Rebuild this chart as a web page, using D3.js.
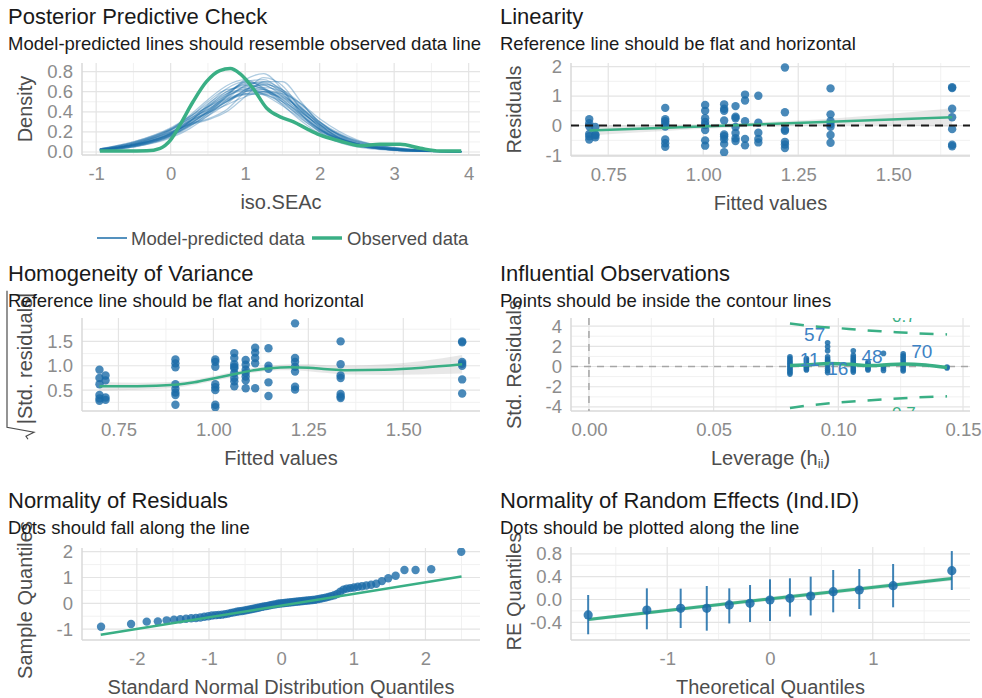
<!DOCTYPE html>
<html>
<head>
<meta charset="utf-8">
<script src="https://cdn.jsdelivr.net/npm/d3@7"></script>
<style>
  body { margin: 0; background: #fff; }
  svg { font-family: "Liberation Sans", Arial, sans-serif; }
  .tick text { font-family: "Liberation Sans", Arial, sans-serif; font-size: 18.5px; fill: #8c8c8c; }
  .domain { display: none; }
  .title { font-size: 22px; fill: #1a1a1a; }
  .subtitle { font-size: 18.5px; fill: #1a1a1a; }
  .axis-title { font-size: 20px; fill: #4d4d4d; }
</style>
</head>
<body>
<svg id="chart" width="982" height="698"></svg>
<script>
// ---- Posterior predictive check ----
const ppcX = [-0.95, -0.5, 0, 0.25, 0.5, 0.75, 1.0, 1.25, 1.5, 1.75, 2.0, 2.5, 3.0, 3.5, 3.9];
const ppcSims = [
  [0.02,0.07,0.18,0.29,0.42,0.55,0.63,0.62,0.52,0.37,0.23,0.08,0.03,0.01,0.005],
  [0.03,0.09,0.22,0.33,0.45,0.56,0.61,0.58,0.48,0.35,0.22,0.08,0.03,0.01,0.005],
  [0.01,0.05,0.15,0.25,0.38,0.55,0.70,0.72,0.60,0.40,0.23,0.06,0.02,0.005,0.002],
  [0.02,0.08,0.20,0.30,0.40,0.50,0.58,0.60,0.55,0.43,0.29,0.10,0.04,0.015,0.005],
  [0.02,0.06,0.17,0.30,0.47,0.63,0.70,0.64,0.50,0.34,0.20,0.07,0.025,0.008,0.003],
  [0.015,0.06,0.16,0.26,0.36,0.48,0.62,0.68,0.60,0.44,0.27,0.08,0.025,0.008,0.003],
  [0.025,0.08,0.21,0.34,0.50,0.62,0.64,0.57,0.46,0.33,0.21,0.08,0.035,0.012,0.004],
  [0.02,0.07,0.19,0.28,0.33,0.42,0.60,0.74,0.66,0.43,0.24,0.07,0.02,0.006,0.002],
  [0.03,0.10,0.24,0.35,0.45,0.53,0.58,0.57,0.50,0.39,0.27,0.11,0.045,0.015,0.006],
  [0.01,0.05,0.14,0.23,0.36,0.52,0.66,0.70,0.62,0.45,0.27,0.07,0.02,0.006,0.002],
  [0.02,0.07,0.18,0.30,0.45,0.60,0.67,0.62,0.50,0.36,0.22,0.08,0.03,0.01,0.004],
  [0.02,0.07,0.19,0.31,0.43,0.52,0.57,0.58,0.54,0.42,0.28,0.10,0.035,0.012,0.004],
  [0.015,0.06,0.17,0.28,0.40,0.54,0.65,0.66,0.57,0.41,0.25,0.08,0.025,0.008,0.003],
  [0.02,0.08,0.20,0.27,0.32,0.40,0.55,0.70,0.70,0.50,0.28,0.07,0.02,0.006,0.002],
  [0.025,0.08,0.22,0.36,0.52,0.66,0.72,0.63,0.47,0.31,0.18,0.06,0.02,0.007,0.002],
  [0.02,0.07,0.18,0.28,0.39,0.50,0.60,0.64,0.60,0.47,0.30,0.09,0.03,0.01,0.004],
  [0.01,0.05,0.16,0.27,0.40,0.56,0.72,0.78,0.62,0.38,0.20,0.05,0.015,0.005,0.002],
  [0.03,0.09,0.22,0.31,0.39,0.47,0.55,0.60,0.58,0.48,0.33,0.12,0.04,0.012,0.004],
  [0.02,0.07,0.19,0.32,0.46,0.58,0.62,0.60,0.53,0.40,0.26,0.09,0.03,0.01,0.004],
  [0.02,0.06,0.16,0.26,0.38,0.50,0.62,0.67,0.62,0.48,0.30,0.08,0.025,0.008,0.003],
  [0.025,0.09,0.23,0.35,0.48,0.60,0.66,0.63,0.52,0.37,0.23,0.08,0.03,0.01,0.004],
  [0.02,0.07,0.17,0.27,0.41,0.57,0.68,0.69,0.58,0.41,0.25,0.07,0.02,0.007,0.002],
  [0.03,0.10,0.23,0.33,0.42,0.51,0.60,0.62,0.56,0.44,0.30,0.11,0.04,0.013,0.005],
  [0.015,0.06,0.18,0.30,0.44,0.58,0.69,0.67,0.55,0.38,0.22,0.06,0.02,0.006,0.002]
];
const obsX = [-0.95,-0.6,-0.32,-0.14,0,0.125,0.3,0.48,0.66,0.8,0.93,1.11,1.29,1.47,1.65,1.83,2.0,2.27,2.54,2.81,3.08,3.35,3.61,3.9];
const obsY = [0.01,0.01,0.012,0.037,0.12,0.27,0.5,0.70,0.81,0.83,0.78,0.63,0.435,0.35,0.30,0.23,0.17,0.11,0.063,0.077,0.077,0.037,0.01,0.01];

// ---- Linearity / homogeneity (fitted value groups) ----
const fittedLevels = [0.70, 0.716, 0.90, 1.005, 1.055, 1.085, 1.11, 1.145, 1.215, 1.335, 1.655];
const linResid = [
  [0.22, 0.08, -0.02, -0.28, -0.36, -0.47],
  [-0.05, -0.3, -0.33, -0.4],
  [0.6, 0.22, 0.15, 0.06, -0.03, -0.47, -0.6, -0.72],
  [0.7, 0.5, 0.25, 0.12, 0.02, -0.15, -0.5, -0.68],
  [0.72, 0.57, 0.5, 0.17, -0.3, -0.36, -0.46, -0.62, -0.9],
  [0.66, 0.3, 0.25, -0.05, -0.25, -0.43, -0.52],
  [1.05, 0.85, 0.15, -0.45, -0.67],
  [1.01, 0.1, -0.24, -0.45, -0.57],
  [1.97, 0.45, -0.13, -0.18, -0.55, -0.64, -0.76],
  [1.26, 0.38, 0.15, 0.05, -0.04, -0.32, -0.58],
  [1.3, 1.27, 0.57, 0.28, -0.12, -0.65, -0.7]
];
const linSmoothX = [0.70, 1.655];
const linSmoothY = [-0.17, 0.28];
const linBandX  = [0.70, 0.8, 0.9, 1.0, 1.1, 1.2, 1.3, 1.4, 1.5, 1.6, 1.655];
const linBandLo = [-0.34,-0.25,-0.18,-0.11,-0.06,-0.02,0.01,0.02,0.01,-0.02,-0.04];
const linBandHi = [0.0,0.0,0.02,0.05,0.09,0.15,0.21,0.3,0.41,0.52,0.6];

const homSqrtRes = [
  [0.92, 0.75, 0.62, 0.4, 0.33, 0.28],
  [0.8, 0.7, 0.35, 0.3],
  [1.13, 1.05, 0.97, 0.62, 0.53, 0.45, 0.4, 0.2],
  [1.13, 1.08, 0.98, 0.62, 0.56, 0.5, 0.2, 0.15],
  [1.26, 1.16, 1.03, 0.98, 0.95, 0.85, 0.75, 0.68, 0.58],
  [1.12, 1.02, 0.92, 0.85, 0.78, 0.7, 0.54],
  [1.37, 1.27, 1.16, 1.05, 0.54],
  [1.36, 1.0, 0.94, 0.66, 0.38],
  [1.87, 1.16, 1.08, 0.98, 0.88, 0.57, 0.51],
  [1.5, 1.03, 0.8, 0.75, 0.42, 0.37, 0.34],
  [1.5, 1.48, 1.08, 1.04, 1.0, 0.72, 0.43]
];
const homSmoothX = [0.70,0.80,0.90,0.95,1.0,1.05,1.1,1.15,1.2,1.25,1.3,1.35,1.45,1.55,1.655];
const homSmoothY = [0.58,0.58,0.61,0.66,0.74,0.82,0.9,0.95,0.97,0.96,0.93,0.91,0.92,0.96,1.03];
const homBandLo  = [0.49,0.51,0.55,0.61,0.69,0.77,0.85,0.90,0.91,0.89,0.85,0.82,0.81,0.82,0.84];
const homBandHi  = [0.67,0.65,0.67,0.71,0.79,0.87,0.95,1.0,1.03,1.03,1.01,1.0,1.03,1.10,1.22];

// ---- Influential observations ----
const infLev = [0.0806, 0.0872, 0.0957, 0.106, 0.1119, 0.1181, 0.126, 0.1436];
const infRes = [
  [0.97,0.8,0.6,0.45,0.3,0.15,0,-0.15,-0.3,-0.45,-0.6,-0.75],
  [0.8,0.65,0.5,0.3,0.15,0,-0.1,-0.25,-0.35],
  [2.35,1.95,1.55,0.95,0.75,0.6,0.45,0.3,0.1,-0.2,-0.4,-0.6],
  [1.55,1.1,0.9,0.75,0.6,0.45,0.3,0.1,-0.1,-0.25,-0.4,-0.55],
  [0.45,0.3,0.15,0,-0.1,-0.25,-0.35],
  [1.3,0,-0.2,-0.4],
  [1.25,1.05,0.9,0.7,0.55,0.35,0.2,0.05,-0.1,-0.3,-0.45],
  [-0.05,-0.15]
];
const infSmoothX = [0.0806,0.09,0.0957,0.1,0.106,0.112,0.118,0.126,0.135,0.1436];
const infSmoothY = [0.1,0.2,0.3,0.28,0.2,0.1,0.15,0.25,0.15,-0.1];
const cookX  = [0.0806, 0.09, 0.1, 0.11, 0.12, 0.13, 0.1436];
const cookHi = [4.25, 3.98, 3.8, 3.6, 3.45, 3.3, 3.18];
const cookLo = [-4.1, -3.8, -3.55, -3.38, -3.22, -3.08, -2.95];
const infLabels = ["57", "11", "16", "48", "70"];
const infLabelX = [0.0905, 0.0885, 0.0998, 0.1135, 0.1335];
const infLabelY = [3.2, 0.7, -0.15, 0.95, 1.45];

// ---- Normality of residuals ----
const qqTheo = [-2.496,-2.080,-1.863,-1.709,-1.587,-1.485,-1.397,-1.318,-1.247,-1.181,-1.120,-1.064,-1.010,-0.959,-0.910,-0.864,-0.820,-0.776,-0.734,-0.694,
  -0.655,-0.616,-0.579,-0.542,-0.506,-0.471,-0.436,-0.402,-0.368,-0.335,-0.302,-0.269,-0.237,-0.205,-0.173,-0.142,-0.110,-0.078,-0.047,-0.016,
  0.016,0.047,0.078,0.110,0.142,0.173,0.205,0.237,0.269,0.302,0.335,0.368,0.402,0.436,0.471,0.506,0.542,0.579,0.616,0.655,
  0.694,0.734,0.776,0.820,0.864,0.910,0.959,1.010,1.064,1.120,1.181,1.247,1.318,1.397,1.485,1.587,1.709,1.863,2.080,2.496];
const qqSample = [-0.91,-0.80,-0.71,-0.70,-0.66,-0.64,-0.62,-0.60,-0.58,-0.57,-0.55,-0.52,-0.50,-0.47,-0.46,-0.45,-0.44,-0.42,-0.40,-0.37,
  -0.35,-0.33,-0.31,-0.30,-0.28,-0.26,-0.24,-0.22,-0.20,-0.18,-0.16,-0.14,-0.12,-0.11,-0.09,-0.07,-0.05,-0.04,-0.02,-0.01,
  0.00,0.01,0.02,0.03,0.04,0.05,0.06,0.07,0.08,0.09,0.10,0.11,0.12,0.13,0.14,0.16,0.18,0.20,0.22,0.25,
  0.28,0.31,0.36,0.45,0.53,0.57,0.59,0.61,0.64,0.66,0.69,0.72,0.76,0.86,0.97,1.07,1.29,1.29,1.32,2.00];
const qqLineX = [-2.5, 2.5];
const qqLineY = [-1.22, 1.04];

// ---- Normality of random effects ----
const reTheo = [-1.769,-1.198,-0.869,-0.615,-0.396,-0.194,0,0.194,0.396,0.615,0.869,1.198,1.769];
const reVal  = [-0.27,-0.184,-0.155,-0.155,-0.096,-0.067,-0.009,0.021,0.061,0.137,0.167,0.242,0.505];
const reLo   = [-0.61,-0.523,-0.50,-0.547,-0.42,-0.395,-0.377,-0.30,-0.28,-0.225,-0.167,-0.137,0.167];
const reHi   = [0.079,0.196,0.19,0.237,0.196,0.254,0.354,0.372,0.40,0.518,0.535,0.623,0.85];
const reLineX = [-1.769, 1.769];
const reLineY = [-0.35, 0.37];
const reBandLo = [-0.38, 0.33];
const reBandHi = [-0.32, 0.41];

const blue = "#1b6ca8", green = "#3aaf85";
const svg = d3.select("#chart");

function panel(c) {
  const g = svg.append("g");
  const x = d3.scaleLinear().domain(c.xDomain).range([c.left, c.right]);
  const y = d3.scaleLinear().domain(c.yDomain).range([c.bottom, c.top]);

  g.append("text").attr("class", "title").attr("x", c.tx).attr("y", c.ty).text(c.title);

  // grid
  const grid = g.append("g");
  grid.selectAll(".vmin").data(c.xMinor).join("line")
    .attr("x1", d => x(d)).attr("x2", d => x(d)).attr("y1", c.top).attr("y2", c.bottom)
    .attr("stroke", "#f1f1f1").attr("stroke-width", 1);
  grid.selectAll(".hmin").data(c.yMinor).join("line")
    .attr("y1", d => y(d)).attr("y2", d => y(d)).attr("x1", c.left).attr("x2", c.right)
    .attr("stroke", "#f1f1f1").attr("stroke-width", 1);
  grid.selectAll(".vmaj").data(c.xTicks).join("line")
    .attr("x1", d => x(d)).attr("x2", d => x(d)).attr("y1", c.top).attr("y2", c.bottom)
    .attr("stroke", "#e4e4e4").attr("stroke-width", 1.2);
  grid.selectAll(".hmaj").data(c.yTicks).join("line")
    .attr("y1", d => y(d)).attr("y2", d => y(d)).attr("x1", c.left).attr("x2", c.right)
    .attr("stroke", "#e4e4e4").attr("stroke-width", 1.2);
  g.append("line").attr("x1", c.left).attr("x2", c.left).attr("y1", c.top).attr("y2", c.bottom)
    .attr("stroke", "#d9d9d9").attr("stroke-width", 1.5);
  g.append("line").attr("x1", c.left).attr("x2", c.right).attr("y1", c.bottom).attr("y2", c.bottom)
    .attr("stroke", "#d9d9d9").attr("stroke-width", 1.5);

  g.append("g").attr("transform", `translate(0,${c.bottom})`)
    .call(d3.axisBottom(x).tickValues(c.xTicks).tickFormat((d, i) => c.xLabels[i]).tickSize(0).tickPadding(12));
  g.append("g").attr("transform", `translate(${c.left},0)`)
    .call(d3.axisLeft(y).tickValues(c.yTicks).tickFormat((d, i) => c.yLabels[i]).tickSize(0).tickPadding(9));

  // x title
  const xt = g.append("text").attr("class", "axis-title")
    .attr("x", (c.left + c.right) / 2).attr("y", c.bottom + 47)
    .attr("text-anchor", "middle").attr("dominant-baseline", "central");
  if (c.xTitleSub) {
    xt.text(c.xTitle);
    xt.append("tspan").attr("font-size", "13px").attr("dy", 5).text(c.xTitleSub);
    xt.append("tspan").attr("dy", -5).text(")");
  } else {
    xt.text(c.xTitle);
  }

  // y title
  const yg = g.append("g").attr("transform", `translate(${c.left - 57},${(c.top + c.bottom) / 2 + (c.yShift || 0)}) rotate(-90)`);
  const ytxt = yg.append("text").attr("class", "axis-title").attr("text-anchor", "middle")
    .attr("dominant-baseline", "central").text(c.yTitle);

  // subtitle drawn after y title so it sits on top like the reference
  g.append("text").attr("class", "subtitle").attr("x", c.tx).attr("y", c.ty + 26).text(c.subtitle);

  const id = "clip" + c.id;
  svg.append("clipPath").attr("id", id).append("rect")
    .attr("x", c.left).attr("y", c.top).attr("width", c.right - c.left).attr("height", c.bottom - c.top);
  const plot = g.append("g").attr("clip-path", `url(#${id})`);
  return { g, plot, x, y, ytxt, yg };
}

// ================= Panel 1: PPC =================
{
  const p = panel({
    id: 1, title: "Posterior Predictive Check", subtitle: "Model-predicted lines should resemble observed data line",
    tx: 8, ty: 24, left: 82, right: 480, top: 63, bottom: 155,
    xDomain: [-1.19, 4.152], yDomain: [-0.03, 0.886],
    xTicks: [-1, 0, 1, 2, 3, 4], xLabels: ["-1", "0", "1", "2", "3", "4"], xMinor: [-0.5, 0.5, 1.5, 2.5, 3.5],
    yTicks: [0, 0.2, 0.4, 0.6, 0.8], yLabels: ["0.0", "0.2", "0.4", "0.6", "0.8"], yMinor: [0.1, 0.3, 0.5, 0.7],
    xTitle: "iso.SEAc", yTitle: "Density"
  });
  const line = d3.line().x(d => p.x(d[0])).y(d => p.y(d[1])).curve(d3.curveMonotoneX);
  p.plot.selectAll(".sim").data(ppcSims).join("path")
    .attr("d", s => line(s.map((v, i) => [ppcX[i], v])))
    .attr("fill", "none").attr("stroke", blue).attr("stroke-opacity", 0.35).attr("stroke-width", 1.3);
  p.plot.append("path").attr("d", line(obsX.map((v, i) => [v, obsY[i]])))
    .attr("fill", "none").attr("stroke", green).attr("stroke-width", 3.5);

  // legend
  const lg = svg.append("g");
  lg.append("line").attr("x1", 97).attr("x2", 127).attr("y1", 238).attr("y2", 238)
    .attr("stroke", blue).attr("stroke-width", 1.5);
  lg.append("text").attr("x", 131).attr("y", 238).attr("dominant-baseline", "central")
    .attr("font-size", "18.5px").attr("fill", "#4d4d4d").text("Model-predicted data");
  lg.append("line").attr("x1", 312).attr("x2", 342).attr("y1", 238).attr("y2", 238)
    .attr("stroke", green).attr("stroke-width", 3.5);
  lg.append("text").attr("x", 347).attr("y", 238).attr("dominant-baseline", "central")
    .attr("font-size", "18.5px").attr("fill", "#4d4d4d").text("Observed data");
}

// ================= Panel 2: Linearity =================
{
  const p = panel({
    id: 2, title: "Linearity", subtitle: "Reference line should be flat and horizontal",
    tx: 500, ty: 24, left: 571, right: 970, top: 63, bottom: 156,
    xDomain: [0.652, 1.702], yDomain: [-1.03, 2.12],
    xTicks: [0.75, 1, 1.25, 1.5], xLabels: ["0.75", "1.00", "1.25", "1.50"], xMinor: [0.875, 1.125, 1.375, 1.625],
    yTicks: [-1, 0, 1, 2], yLabels: ["-1", "0", "1", "2"], yMinor: [-0.5, 0.5, 1.5],
    xTitle: "Fitted values", yTitle: "Residuals"
  });
  const area = d3.area().x(d => p.x(d[0])).y0(d => p.y(d[1])).y1(d => p.y(d[2])).curve(d3.curveMonotoneX);
  p.plot.append("path").attr("d", area(linBandX.map((v, i) => [v, linBandLo[i], linBandHi[i]])))
    .attr("fill", "#b3b3b3").attr("fill-opacity", 0.3);
  const pts = fittedLevels.flatMap((f, i) => linResid[i].map(r => [f, r]));
  p.plot.selectAll(".pt").data(pts).join("circle")
    .attr("cx", d => p.x(d[0])).attr("cy", d => p.y(d[1])).attr("r", 4.2)
    .attr("fill", blue).attr("fill-opacity", 0.8);
  p.plot.append("path").attr("d", d3.line()(linSmoothX.map((v, i) => [p.x(v), p.y(linSmoothY[i])])))
    .attr("fill", "none").attr("stroke", green).attr("stroke-width", 2.5);
  p.plot.append("line").attr("x1", p.x(0.652)).attr("x2", p.x(1.702)).attr("y1", p.y(0)).attr("y2", p.y(0))
    .attr("stroke", "#1a1a1a").attr("stroke-width", 2).attr("stroke-dasharray", "8,6");
}

// ================= Panel 3: Homogeneity =================
{
  const p = panel({
    id: 3, title: "Homogeneity of Variance", subtitle: "Reference line should be flat and horizontal",
    tx: 8, ty: 281, left: 82, right: 480, top: 318, bottom: 411,
    xDomain: [0.654, 1.702], yDomain: [0.072, 1.98],
    xTicks: [0.75, 1, 1.25, 1.5], xLabels: ["0.75", "1.00", "1.25", "1.50"], xMinor: [0.875, 1.125, 1.375, 1.625],
    yTicks: [0.5, 1, 1.5], yLabels: ["0.5", "1.0", "1.5"], yMinor: [0.25, 0.75, 1.25, 1.75],
    xTitle: "Fitted values", yTitle: "|Std. residuals|", yShift: -6
  });
  // radical sign around the rotated label
  const w = p.ytxt.node().getComputedTextLength();
  p.yg.append("path")
    .attr("d", `M${w / 2 + 2},-18 L${-w / 2 - 3},-18 L${-w / 2 - 8},9 L${-w / 2 - 12},1 L${-w / 2 - 15},3`)
    .attr("fill", "none").attr("stroke", "#4d4d4d").attr("stroke-width", 1.2);

  const area = d3.area().x(d => p.x(d[0])).y0(d => p.y(d[1])).y1(d => p.y(d[2])).curve(d3.curveMonotoneX);
  p.plot.append("path").attr("d", area(homSmoothX.map((v, i) => [v, homBandLo[i], homBandHi[i]])))
    .attr("fill", "#b3b3b3").attr("fill-opacity", 0.3);
  const pts = fittedLevels.flatMap((f, i) => homSqrtRes[i].map(r => [f, r]));
  p.plot.selectAll(".pt").data(pts).join("circle")
    .attr("cx", d => p.x(d[0])).attr("cy", d => p.y(d[1])).attr("r", 4.2)
    .attr("fill", blue).attr("fill-opacity", 0.8);
  const line = d3.line().x(d => p.x(d[0])).y(d => p.y(d[1])).curve(d3.curveMonotoneX);
  p.plot.append("path").attr("d", line(homSmoothX.map((v, i) => [v, homSmoothY[i]])))
    .attr("fill", "none").attr("stroke", green).attr("stroke-width", 2.5);
}

// ================= Panel 4: Influential observations =================
{
  const p = panel({
    id: 4, title: "Influential Observations", subtitle: "Points should be inside the contour lines",
    tx: 500, ty: 281, left: 571, right: 970, top: 318, bottom: 411,
    xDomain: [-0.0072, 0.1528], yDomain: [-4.4, 4.8],
    xTicks: [0, 0.05, 0.1, 0.15], xLabels: ["0.00", "0.05", "0.10", "0.15"], xMinor: [0.025, 0.075, 0.125],
    yTicks: [-4, -2, 0, 2, 4], yLabels: ["-4", "-2", "0", "2", "4"], yMinor: [-3, -1, 1, 3],
    xTitle: "Leverage (h", xTitleSub: "ii", yTitle: "Std. Residuals"
  });
  p.plot.append("line").attr("x1", p.x(0)).attr("x2", p.x(0)).attr("y1", 318).attr("y2", 411)
    .attr("stroke", "#a6a6a6").attr("stroke-width", 1.5).attr("stroke-dasharray", "7,6");
  p.plot.append("line").attr("x1", 571).attr("x2", 970).attr("y1", p.y(0)).attr("y2", p.y(0))
    .attr("stroke", "#a6a6a6").attr("stroke-width", 1.5).attr("stroke-dasharray", "7,6");

  const line = d3.line().x(d => p.x(d[0])).y(d => p.y(d[1])).curve(d3.curveMonotoneX);
  [cookHi, cookLo].forEach(arr => {
    p.plot.append("path").attr("d", line(cookX.map((v, i) => [v, arr[i]])))
      .attr("fill", "none").attr("stroke", green).attr("stroke-width", 2.5).attr("stroke-dasharray", "14,12");
  });
  p.plot.append("text").attr("x", p.x(0.1263)).attr("y", p.y(4.4)).attr("text-anchor", "middle")
    .attr("font-size", "17px").attr("fill", green).text("0.7");
  p.plot.append("text").attr("x", p.x(0.1263)).attr("y", p.y(-5.15)).attr("text-anchor", "middle")
    .attr("font-size", "17px").attr("fill", green).text("0.7");

  const pts = infLev.flatMap((f, i) => infRes[i].map(r => [f, r]));
  p.plot.selectAll(".pt").data(pts).join("circle")
    .attr("cx", d => p.x(d[0])).attr("cy", d => p.y(d[1])).attr("r", 2.8)
    .attr("fill", blue).attr("fill-opacity", 0.85);
  p.plot.append("path").attr("d", line(infSmoothX.map((v, i) => [v, infSmoothY[i]])))
    .attr("fill", "none").attr("stroke", green).attr("stroke-width", 3.5);
  p.plot.selectAll(".lab").data(infLabels).join("text")
    .attr("x", (d, i) => p.x(infLabelX[i])).attr("y", (d, i) => p.y(infLabelY[i]))
    .attr("text-anchor", "middle").attr("dominant-baseline", "central")
    .attr("font-size", "19px").attr("fill", "#3d82c4").text(d => d);
}

// ================= Panel 5: Normality of residuals =================
{
  const p = panel({
    id: 5, title: "Normality of Residuals", subtitle: "Dots should fall along the line",
    tx: 8, ty: 508, left: 82, right: 480, top: 548, bottom: 640,
    xDomain: [-2.76, 2.756], yDomain: [-1.422, 2.143],
    xTicks: [-2, -1, 0, 1, 2], xLabels: ["-2", "-1", "0", "1", "2"], xMinor: [-2.5, -1.5, -0.5, 0.5, 1.5, 2.5],
    yTicks: [-1, 0, 1, 2], yLabels: ["-1", "0", "1", "2"], yMinor: [-0.5, 0.5, 1.5],
    xTitle: "Standard Normal Distribution Quantiles", yTitle: "Sample Quantiles", yShift: 6
  });
  p.plot.selectAll(".pt").data(qqTheo).join("circle")
    .attr("cx", d => p.x(d)).attr("cy", (d, i) => p.y(qqSample[i])).attr("r", 4.2)
    .attr("fill", blue).attr("fill-opacity", 0.8);
  p.plot.append("path").attr("d", d3.line()(qqLineX.map((v, i) => [p.x(v), p.y(qqLineY[i])])))
    .attr("fill", "none").attr("stroke", green).attr("stroke-width", 2.5);
}

// ================= Panel 6: Normality of random effects =================
{
  const p = panel({
    id: 6, title: "Normality of Random Effects (Ind.ID)", subtitle: "Dots should be plotted along the line",
    tx: 500, ty: 508, left: 571, right: 970, top: 547, bottom: 640,
    xDomain: [-1.936, 1.946], yDomain: [-0.7105, 0.921],
    xTicks: [-1, 0, 1], xLabels: ["-1", "0", "1"], xMinor: [-1.5, -0.5, 0.5, 1.5],
    yTicks: [-0.4, 0, 0.4, 0.8], yLabels: ["-0.4", "0.0", "0.4", "0.8"], yMinor: [-0.6, -0.2, 0.2, 0.6],
    xTitle: "Theoretical Quantiles", yTitle: "RE Quantiles", yShift: -2
  });
  const area = d3.area().x(d => p.x(d[0])).y0(d => p.y(d[1])).y1(d => p.y(d[2]));
  p.plot.append("path").attr("d", area(reLineX.map((v, i) => [v, reBandLo[i], reBandHi[i]])))
    .attr("fill", "#b3b3b3").attr("fill-opacity", 0.3);
  p.plot.append("path").attr("d", d3.line()(reLineX.map((v, i) => [p.x(v), p.y(reLineY[i])])))
    .attr("fill", "none").attr("stroke", green).attr("stroke-width", 3);
  p.plot.selectAll(".err").data(reTheo).join("line")
    .attr("x1", d => p.x(d)).attr("x2", d => p.x(d))
    .attr("y1", (d, i) => p.y(reLo[i])).attr("y2", (d, i) => p.y(reHi[i]))
    .attr("stroke", blue).attr("stroke-width", 2).attr("stroke-opacity", 0.85);
  p.plot.selectAll(".pt").data(reTheo).join("circle")
    .attr("cx", d => p.x(d)).attr("cy", (d, i) => p.y(reVal[i])).attr("r", 4.6)
    .attr("fill", blue).attr("fill-opacity", 0.85);
}
</script>
</body>
</html>
